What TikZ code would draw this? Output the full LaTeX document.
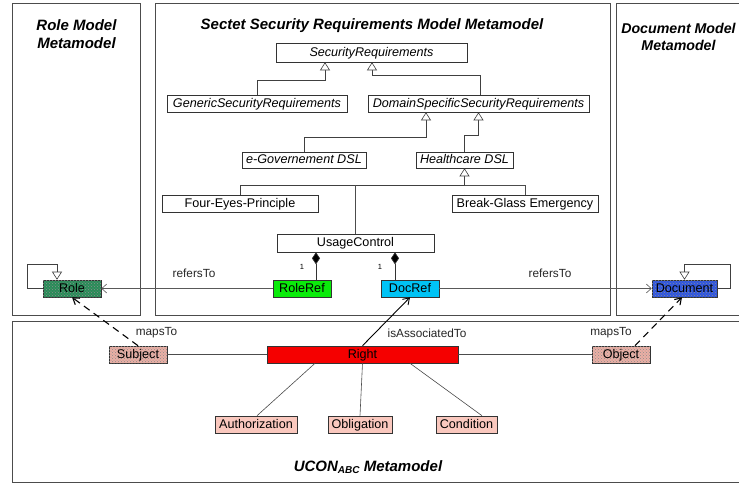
\documentclass[tikz,border=0pt]{standalone}
\usepackage{fontspec}
\setmainfont{Liberation Sans}
\usetikzlibrary{arrows.meta,patterns}
\definecolor{rolegreen}{RGB}{40,140,88}
\definecolor{docblue}{RGB}{45,85,225}
\definecolor{refgreen}{RGB}{10,235,10}
\definecolor{refcyan}{RGB}{0,195,245}
\definecolor{rightred}{RGB}{245,0,0}
\definecolor{soobj}{RGB}{235,175,165}
\definecolor{salmon}{RGB}{250,200,190}
\begin{document}
\begin{tikzpicture}[x=1pt,y=-1pt,
  box/.style={draw=black!80,line width=0.6pt,inner sep=0pt,minimum height=17pt,text height=10pt,text depth=2.5pt,font=\fontsize{12.6}{13}\selectfont},
  abs/.style={box,font=\fontsize{12.6}{13}\selectfont\itshape},
  dotted fill/.style={fill=#1,postaction={pattern=crosshatch dots,pattern color=black!45}},
  frame/.style={draw=black!70,line width=0.9pt},
  title/.style={font=\fontsize{15}{18}\selectfont\bfseries\itshape,align=center,inner sep=0pt},
  gen/.style={draw=black!75,line width=0.6pt,-{Triangle[open,length=8pt,width=10pt,fill=white]}},
  comp/.style={draw=black!80,line width=0.6pt,-{Diamond[length=12pt,width=8pt,fill=black]}},
  ref/.style={draw=black!65,line width=0.6pt,-{Straight Barb[length=5pt,width=9pt]}},
  mapsto/.style={draw=black,line width=1.1pt,dash pattern=on 7pt off 5pt,-{Straight Barb[length=6pt,width=8pt]}},
  assoc/.style={draw=black,line width=0.9pt,-{Straight Barb[length=6pt,width=8pt]}},
  plain/.style={draw=black!70,line width=0.6pt},
  lbl/.style={font=\fontsize{11.8}{12}\selectfont,text=black!85,inner sep=0pt},
  mult/.style={font=\fontsize{7.5}{8}\selectfont,inner sep=0pt}
]
\useasboundingbox (0,0) rectangle (739,483);
\fill[white] (0,0) rectangle (739,483);
\begin{scope}
\clip (0,0) rectangle (739,483);
\draw[frame] (12,3) rectangle (140,315);
\draw[frame] (155,3) rectangle (610,315);
\draw[frame] (616,3) rectangle (760,315);
\draw[frame] (12,321) rectangle (760,482);
\end{scope}

% titles
\node[title] (troleA) at (76.5,34.5) {Role Model\\Metamodel};
\node[title] (tsect) at (372,25.5) {Sectet Security Requirements Model Metamodel};
\node[title,font=\fontsize{14.2}{17}\selectfont\bfseries\itshape] (tdoc) at (678.5,37) {Document Model\\Metamodel};
\node[title] (tucon) at (368,467) {UCON\raisebox{-0.35ex}{\fontsize{10}{10}\selectfont ABC} Metamodel};

% Sectet nodes
\node[abs,minimum width=191pt,minimum height=19pt] (secreq) at (371.5,52.5) {SecurityRequirements};
\node[abs,minimum width=180pt] (generic) at (257,103.5) {GenericSecurityRequirements};
\node[abs,minimum width=221pt] (domain) at (478.5,103.5) {DomainSpecificSecurityRequirements};
\node[abs,minimum width=124pt,minimum height=16pt] (egov) at (304,160) {e-Governement DSL};
\node[abs,minimum width=97pt,minimum height=16pt] (health) at (464.5,160) {Healthcare DSL};
\node[box,minimum width=156pt] (foureyes) at (240,203.5) {Four-Eyes-Principle};
\node[box,minimum width=146pt] (breakglass) at (525,203.5) {Break-Glass Emergency};
\node[box,minimum width=157pt,minimum height=18pt] (usage) at (355.5,243) {UsageControl};
\node[box,fill=refgreen,minimum width=58pt] (roleref) at (302,288.5) {RoleRef};
\node[box,fill=refcyan,minimum width=58pt] (docref) at (410,288.5) {DocRef};

% side nodes
\node[box,dotted fill=rolegreen,minimum width=58pt] (role) at (72,288.5) {Role};
\node[box,dotted fill=docblue,minimum width=65pt] (document) at (684.5,288.5) {Document};

% UCON nodes
\node[box,dotted fill=soobj,minimum width=58pt] (subject) at (138,354.5) {Subject};
\node[box,fill=rightred,minimum width=191pt] (right) at (362.5,354.5) {Right};
\node[box,dotted fill=soobj,minimum width=58pt] (object) at (621,354.5) {Object};
\node[box,fill=salmon,minimum width=82pt] (authorization) at (256,424.5) {Authorization};
\node[box,fill=salmon,minimum width=64pt] (obligation) at (360,424.5) {Obligation};
\node[box,fill=salmon,minimum width=61pt] (condition) at (466.5,424.5) {Condition};

% generalizations
\draw[gen] (generic.north) |- ([xshift=-46.5pt,yshift=-18pt]secreq.south) -- ([xshift=-46.5pt]secreq.south);
\draw[gen] ([xshift=1.5pt]domain.north) |- ([xshift=0.5pt,yshift=-13pt]secreq.south) -- ([xshift=0.5pt]secreq.south);
\draw[gen] (egov.north) |- ([xshift=-52.5pt,yshift=-25pt]domain.south) -- ([xshift=-52.5pt]domain.south);
\draw[gen] (health.north) |- ([yshift=-23pt]domain.south) -- (domain.south);
\coordinate (hb) at ([yshift=-17pt]health.south);
\draw[gen] (foureyes.north) |- (hb) -- (health.south);
\draw[plain] (breakglass.north) |- (hb);
\draw[plain] (usage.north) -- (usage.north |- hb);

% self loops
\draw[gen] (role.west) -- ++(-15,0) |- ([xshift=-15pt,yshift=15pt]role.north) -- ([xshift=-15pt]role.north);
\draw[gen] (document.east) -- ++(13,0) |- ([yshift=15pt]document.north) -- (document.north);

% compositions
\draw[comp] ([xshift=14pt]roleref.north) -- ([xshift=-39.5pt]usage.south);
\draw[comp] ([xshift=-15pt]docref.north) -- ([xshift=39.5pt]usage.south);
\node[mult] (m1) at (302,267) {1};
\node[mult] (m2) at (380,267) {1};

% refersTo
\draw[ref] (roleref.west) -- (role.east);
\draw[ref] (docref.east) -- (document.west);
\node[lbl] (lr1) at (194,273) {refersTo};
\node[lbl] (lr2) at (550,273) {refersTo};

% UCON connections
\draw[plain] (subject.east) -- (right.west);
\draw[plain] (right.east) -- (object.west);
\draw[plain] ([xshift=-47.5pt]right.south) -- ([xshift=1pt]authorization.north);
\draw[plain] (right.south) -- (obligation.north);
\draw[plain] ([xshift=47.5pt]right.south) -- ([xshift=15.5pt]condition.north);
\draw[assoc] (right.north) -- (docref.south);
\node[lbl] (la) at (427,333) {isAssociatedTo};
\draw[mapsto] (subject.north) -- (role.south);
\node[lbl] (lm1) at (156.5,333) {mapsTo};
\draw[mapsto] ([xshift=14pt]object.north) -- ([xshift=-2.5pt]document.south);
\node[lbl] (lm2) at (611,333) {mapsTo};
\end{tikzpicture}
\end{document}
